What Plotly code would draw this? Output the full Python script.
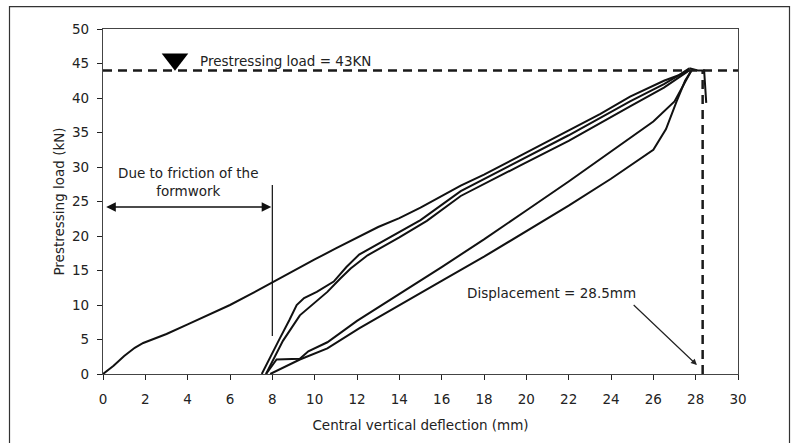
import plotly.graph_objects as go

# ---------------- data ----------------
first_x = [0, 0.5, 1.0, 1.5, 1.9, 3, 4, 5, 6, 7, 8, 9, 10, 11, 12, 13, 14, 15, 16.9, 18, 19.7, 21, 22, 23.5, 24.9, 26.5, 27.2, 27.7]
first_y = [0, 1.2, 2.6, 3.8, 4.5, 5.8, 7.2, 8.6, 10.0, 11.6, 13.3, 15.0, 16.6, 18.2, 19.8, 21.3, 22.6, 24.1, 27.3, 28.9, 31.6, 33.7, 35.3, 37.7, 40.2, 42.5, 43.3, 44.3]

reload1_x = [7.5, 7.9, 8.36, 8.8, 9.15, 9.5, 10.1, 10.9, 11.5, 12.1, 13.1, 14, 15, 16.9, 19.7, 22, 24.9, 26.5, 27.7]
reload1_y = [0, 2.5, 5.2, 7.8, 10.0, 11.0, 11.9, 13.4, 15.5, 17.3, 19.0, 20.6, 22.3, 26.5, 30.9, 34.6, 39.5, 42.0, 44.2]

reload2_x = [7.7, 8.1, 8.5, 9.3, 10.0, 10.6, 11.2, 11.7, 12.5, 14, 15.3, 16.9, 19.7, 22, 24.9, 26.5, 27.7]
reload2_y = [0, 2.4, 4.8, 8.5, 10.3, 11.9, 13.8, 15.3, 17.2, 19.8, 22.2, 25.8, 30.2, 33.8, 38.8, 41.5, 44.0]

unloadA_x = [27.8, 27.0, 26.0, 24.0, 22.0, 20.0, 18.0, 16.0, 14.0, 12.0, 10.6, 9.7, 9.3, 8.2, 7.8, 7.7]
unloadA_y = [44.0, 39.5, 36.6, 32.2, 27.9, 23.7, 19.5, 15.5, 11.6, 7.7, 4.6, 3.3, 2.2, 2.1, 0.4, 0]

unloadB_x = [27.8, 27.5, 27.1, 26.6, 26.0, 24.0, 22.0, 20.0, 18.0, 16.0, 14.0, 12.1, 10.6, 9.3, 7.9]
unloadB_y = [44.0, 42.5, 39.5, 35.5, 32.5, 28.3, 24.4, 20.7, 17.0, 13.5, 10.0, 6.6, 3.7, 2.1, 0]

tail_x = [27.7, 28.1, 28.4, 28.45, 28.5]
tail_y = [44.3, 44.0, 44.0, 42.0, 39.3]

prestress_load = 44.0        # dashed horizontal reference
displacement = 28.33         # dashed vertical reference
marker_x = [3.4]
marker_y = [45.6]
friction_x = 8.0
friction_y = [5.5, 27.4]
friction_arrow_y = 24.2
disp_arrow_tail = (25.0, 10.2)
disp_arrow_head = (28.06, 1.3)

x_ticks = list(range(0, 31, 2))
y_ticks = list(range(0, 51, 5))

FONT = "DejaVu Sans"
FS = 13.5
BLACK = "#111111"
TXT = "#222222"

fig = go.Figure()

for xs, ys in [(first_x, first_y), (unloadA_x, unloadA_y), (reload1_x, reload1_y),
               (unloadB_x, unloadB_y), (reload2_x, reload2_y), (tail_x, tail_y)]:
    fig.add_trace(go.Scatter(x=xs, y=ys, mode="lines",
                             line=dict(color=BLACK, width=2), showlegend=False,
                             hoverinfo="skip"))

# dashed reference lines
fig.add_trace(go.Scatter(x=[0, 30], y=[prestress_load, prestress_load], mode="lines",
                         line=dict(color="#1a1a1a", width=2.5, dash="9px,6px"),
                         showlegend=False, hoverinfo="skip"))
fig.add_trace(go.Scatter(x=[displacement, displacement], y=[0, prestress_load], mode="lines",
                         line=dict(color="#1a1a1a", width=2.5, dash="9px,6px"),
                         showlegend=False, hoverinfo="skip"))

# friction vertical line
fig.add_trace(go.Scatter(x=[friction_x, friction_x], y=friction_y, mode="lines",
                         line=dict(color=BLACK, width=1.2),
                         showlegend=False, hoverinfo="skip"))

# triangle marker
fig.add_trace(go.Scatter(x=marker_x, y=marker_y, mode="markers",
                         marker=dict(symbol="triangle-down", size=23, color="black"),
                         showlegend=False, hoverinfo="skip"))

annotations = [
    dict(x=4.5, y=45.3, xref="x", yref="y", text="Prestressing load = 43KN",
         showarrow=False, xanchor="left", yanchor="middle",
         font=dict(family=FONT, size=FS, color=TXT)),
    dict(x=4.0, y=27.8, xref="x", yref="y", text="Due to friction of the<br>formwork",
         showarrow=False, xanchor="center", yanchor="middle",
         font=dict(family=FONT, size=FS, color=TXT)),
    dict(x=21.2, y=11.7, xref="x", yref="y", text="Displacement = 28.5mm",
         showarrow=False, xanchor="center", yanchor="middle",
         font=dict(family=FONT, size=FS, color=TXT)),
    # double-headed friction arrow
    dict(x=friction_x - 0.05, y=friction_arrow_y, ax=0.08, ay=friction_arrow_y,
         xref="x", yref="y", axref="x", ayref="y", text="", showarrow=True,
         arrowhead=2, startarrowhead=2, arrowside="end+start", arrowsize=1.2,
         startarrowsize=1.2, arrowwidth=1.6, arrowcolor=BLACK),
    # displacement arrow
    dict(x=disp_arrow_head[0], y=disp_arrow_head[1], ax=disp_arrow_tail[0], ay=disp_arrow_tail[1],
         xref="x", yref="y", axref="x", ayref="y", text="", showarrow=True,
         arrowhead=2, arrowsize=1, arrowwidth=1.2, arrowcolor="#222222"),
]

# outer frame of the figure (paper coords computed from margins)
L, R, T, B = 103, 57, 29, 67
W, H = 795, 443
pw, ph = W - L - R, H - T - B
def px_to_paper_x(px):
    return (px - L) / pw
def px_to_paper_y(py):
    return (H - B - py) / ph

shapes = [
    dict(type="rect", xref="paper", yref="paper",
         x0=px_to_paper_x(9.5), x1=px_to_paper_x(789.5),
         y0=px_to_paper_y(450), y1=px_to_paper_y(6.5),
         line=dict(color="#333333", width=1.2), fillcolor="rgba(0,0,0,0)", layer="below"),
]

fig.update_layout(
    width=W, height=H,
    margin=dict(l=L, r=R, t=T, b=B, pad=0),
    paper_bgcolor="white", plot_bgcolor="white",
    showlegend=False,
    annotations=annotations,
    shapes=shapes,
    font=dict(family=FONT, size=FS, color=TXT),
    xaxis=dict(range=[0, 30], tickvals=x_ticks, ticks="outside", ticklen=5,
               tickcolor="#222", tickwidth=1, showgrid=False, zeroline=False,
               showline=True, linecolor="#444", linewidth=1.2, mirror=True,
               ticklabelstandoff=8,
               title=dict(text="Central vertical deflection (mm)", standoff=14,
                          font=dict(family=FONT, size=FS, color=TXT)),
               tickfont=dict(family=FONT, size=FS, color=TXT)),
    yaxis=dict(range=[0, 50], tickvals=y_ticks, ticks="outside", ticklen=5,
               tickcolor="#222", tickwidth=1, showgrid=False, zeroline=False,
               showline=True, linecolor="#444", linewidth=1.2, mirror=True,
               ticklabelstandoff=5,
               title=dict(text="Prestressing load (kN)", standoff=4,
                          font=dict(family=FONT, size=FS, color=TXT)),
               tickfont=dict(family=FONT, size=FS, color=TXT)),
)

fig.write_html("out.html")
